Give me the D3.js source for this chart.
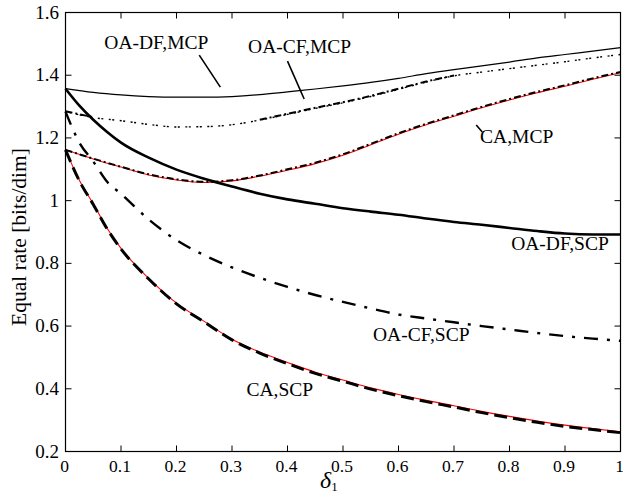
<!DOCTYPE html>
<html>
<head>
<meta charset="utf-8">
<script src="https://cdn.jsdelivr.net/npm/d3@7/dist/d3.min.js"></script>
<style>
  html, body { margin: 0; padding: 0; background: #fff; }
  svg { display: block; }
  text { font-family: "Liberation Serif", "Times New Roman", serif; fill: #000; }
</style>
</head>
<body>
<svg id="chart" width="623" height="494"></svg>
<script>
// δ1 sample points
const delta = [0, 0.05, 0.1, 0.15, 0.2, 0.25, 0.3, 0.35, 0.4, 0.45, 0.5,
               0.55, 0.6, 0.65, 0.7, 0.75, 0.8, 0.85, 0.9, 0.95, 1];
const deltaFine = [0, 0.025, 0.05, 0.075, 0.1, 0.15, 0.2, 0.25, 0.3, 0.35, 0.4, 0.45, 0.5,
                   0.55, 0.6, 0.65, 0.7, 0.75, 0.8, 0.85, 0.9, 0.95, 1];

// multiple-codebook (MCP) rates, sampled on delta
const oaDfMcp = [1.357, 1.345, 1.337, 1.332, 1.330, 1.330, 1.332, 1.338, 1.347, 1.356, 1.366,
                 1.377, 1.390, 1.405, 1.418, 1.430, 1.442, 1.455, 1.466, 1.477, 1.488];
const oaCfMcp = [1.284, 1.265, 1.255, 1.243, 1.235, 1.236, 1.242, 1.257, 1.275, 1.294, 1.312,
                 1.332, 1.355, 1.378, 1.398, 1.410, 1.421, 1.432, 1.443, 1.455, 1.466];
const oaCfMcpSim = [1.285, 1.266, null, null, null, null, null, 1.258, 1.277, 1.296, 1.314,
                    1.334, 1.357, 1.380, 1.399, null, null, null, null, null, null];
const caMcp    = [1.162, 1.133, 1.107, 1.082, 1.066, 1.058, 1.063, 1.078, 1.097, 1.118, 1.145,
                  1.178, 1.212, 1.242, 1.269, 1.296, 1.321, 1.344, 1.365, 1.387, 1.408];
const caMcpSim = [1.162, 1.134, 1.108, 1.084, 1.068, 1.060, 1.065, 1.080, 1.100, 1.121, 1.148,
                  1.181, 1.215, 1.245, 1.272, 1.299, 1.324, 1.347, 1.368, 1.390, 1.410];

// single-codebook (SCP) rates, sampled on deltaFine
const oaDfScp = [1.357, 1.303, 1.258, 1.219, 1.185, 1.137, 1.099, 1.070, 1.045, 1.022, 1.004, 0.990, 0.976,
                 0.965, 0.955, 0.943, 0.932, 0.923, 0.913, 0.903, 0.895, 0.892, 0.892];
const oaCfScp = [1.284, 1.185, 1.125, 1.060, 1.022, 0.940, 0.874, 0.826, 0.787, 0.754, 0.725, 0.699, 0.677,
                 0.656, 0.637, 0.624, 0.612, 0.600, 0.589, 0.578, 0.568, 0.560, 0.553];
const caScp    = [1.162, 1.065, 0.990, 0.912, 0.848, 0.752, 0.673, 0.615, 0.558, 0.517, 0.484, 0.453, 0.428,
                  0.403, 0.382, 0.363, 0.346, 0.328, 0.312, 0.297, 0.284, 0.273, 0.263];
const caScpSim = [1.162, 1.063, 0.988, 0.910, 0.846, 0.750, 0.671, 0.613, 0.556, 0.514, 0.480, 0.449, 0.424,
                  0.399, 0.378, 0.359, 0.342, 0.324, 0.308, 0.293, 0.280, 0.270, 0.260];

// axis ticks
const xTicks = [0, 0.1, 0.2, 0.3, 0.4, 0.5, 0.6, 0.7, 0.8, 0.9, 1];
const xTickLabels = ["0", "0.1", "0.2", "0.3", "0.4", "0.5", "0.6", "0.7", "0.8", "0.9", "1"];
const yTicks = [0.2, 0.4, 0.6, 0.8, 1.0, 1.2, 1.4, 1.6];
const yTickLabels = ["0.2", "0.4", "0.6", "0.8", "1", "1.2", "1.4", "1.6"];

// curve labels: text, anchor point (data units) and optional leader line
const curveLabels = [
  { text: "OA-DF,MCP", x: 0.070, y: 1.483, leader: [[0.241, 1.464], [0.279, 1.362]] },
  { text: "OA-CF,MCP", x: 0.329, y: 1.472, leader: [[0.400, 1.445], [0.430, 1.324]] },
  { text: "CA,MCP",    x: 0.747, y: 1.184, leader: [[0.740, 1.241], [0.751, 1.219]] },
  { text: "OA-DF,SCP", x: 0.803, y: 0.842 },
  { text: "OA-CF,SCP", x: 0.554, y: 0.552 },
  { text: "CA,SCP",    x: 0.326, y: 0.377 }
];

const svg = d3.select("#chart");
const x = d3.scaleLinear().domain([0, 1]).range([65.5, 620.5]);
const y = d3.scaleLinear().domain([0.2, 1.6]).range([451.5, 12.5]);

const line = () => d3.line()
  .defined(d => d[1] !== null)
  .x(d => x(d[0]))
  .y(d => y(d[1]))
  .curve(d3.curveMonotoneX);

function drawSeries(xs, ys, style) {
  const pts = xs.map((v, i) => [v, ys[i]]);
  svg.append("path")
    .attr("d", line()(pts))
    .attr("fill", "none")
    .attr("stroke", style.color || "#000")
    .attr("stroke-width", style.width)
    .attr("stroke-dasharray", style.dash || null)
    .attr("stroke-linejoin", "round");
}

// curves
drawSeries(delta, oaDfMcp, { width: 1.2 });
drawSeries(delta, oaCfMcp, { width: 1.4, dash: "2,1.5,2,5.5" });
drawSeries(delta, oaCfMcpSim, { width: 2, dash: "7,3,2,3" });
drawSeries(delta, caMcp, { width: 1.1, color: "#ff0000" });
drawSeries(delta, caMcpSim, { width: 2, dash: "7,3,2,3" });

drawSeries(deltaFine, oaDfScp, { width: 2.6 });
drawSeries(deltaFine, oaCfScp, { width: 2.4, dash: "14,9,3,9" });
drawSeries(deltaFine, caScp, { width: 1.1, color: "#ff0000" });
drawSeries(deltaFine, caScpSim, { width: 3, dash: "13,6" });

// frame
svg.append("rect")
  .attr("x", x(0)).attr("y", y(1.6))
  .attr("width", x(1) - x(0)).attr("height", y(0.2) - y(1.6))
  .attr("fill", "none").attr("stroke", "#000").attr("stroke-width", 1.2);

// inward ticks on all four sides
const tickLen = 6;
const tg = svg.append("g").attr("stroke", "#000").attr("stroke-width", 1);
xTicks.forEach(t => {
  tg.append("line").attr("x1", x(t)).attr("x2", x(t)).attr("y1", y(0.2)).attr("y2", y(0.2) - tickLen);
  tg.append("line").attr("x1", x(t)).attr("x2", x(t)).attr("y1", y(1.6)).attr("y2", y(1.6) + tickLen);
});
yTicks.forEach(t => {
  tg.append("line").attr("x1", x(0)).attr("x2", x(0) + tickLen).attr("y1", y(t)).attr("y2", y(t));
  tg.append("line").attr("x1", x(1)).attr("x2", x(1) - tickLen).attr("y1", y(t)).attr("y2", y(t));
});

// tick labels
xTicks.forEach((t, i) => {
  svg.append("text").attr("x", x(t) - 1).attr("y", 472)
    .attr("text-anchor", "middle").attr("font-size", 17.5).text(xTickLabels[i]);
});
yTicks.forEach((t, i) => {
  svg.append("text").attr("x", 59).attr("y", y(t) + 6)
    .attr("text-anchor", "end").attr("font-size", 19).text(yTickLabels[i]);
});

// axis titles
svg.append("text")
  .attr("transform", "translate(26,237) rotate(-90)")
  .attr("text-anchor", "middle").attr("font-size", 21.5)
  .text("Equal rate [bits/dim]");

const xl = svg.append("text").attr("x", 320).attr("y", 488);
xl.append("tspan").attr("font-style", "italic").attr("font-size", 24).text("δ");
xl.append("tspan").attr("font-size", 13).attr("dy", 3).text("1");

// curve labels and leaders
curveLabels.forEach(l => {
  svg.append("text").attr("x", x(l.x)).attr("y", y(l.y))
    .attr("font-size", 19.5).text(l.text);
  if (l.leader) {
    svg.append("line")
      .attr("x1", x(l.leader[0][0])).attr("y1", y(l.leader[0][1]))
      .attr("x2", x(l.leader[1][0])).attr("y2", y(l.leader[1][1]))
      .attr("stroke", "#000").attr("stroke-width", 1.6);
  }
});
</script>
</body>
</html>
